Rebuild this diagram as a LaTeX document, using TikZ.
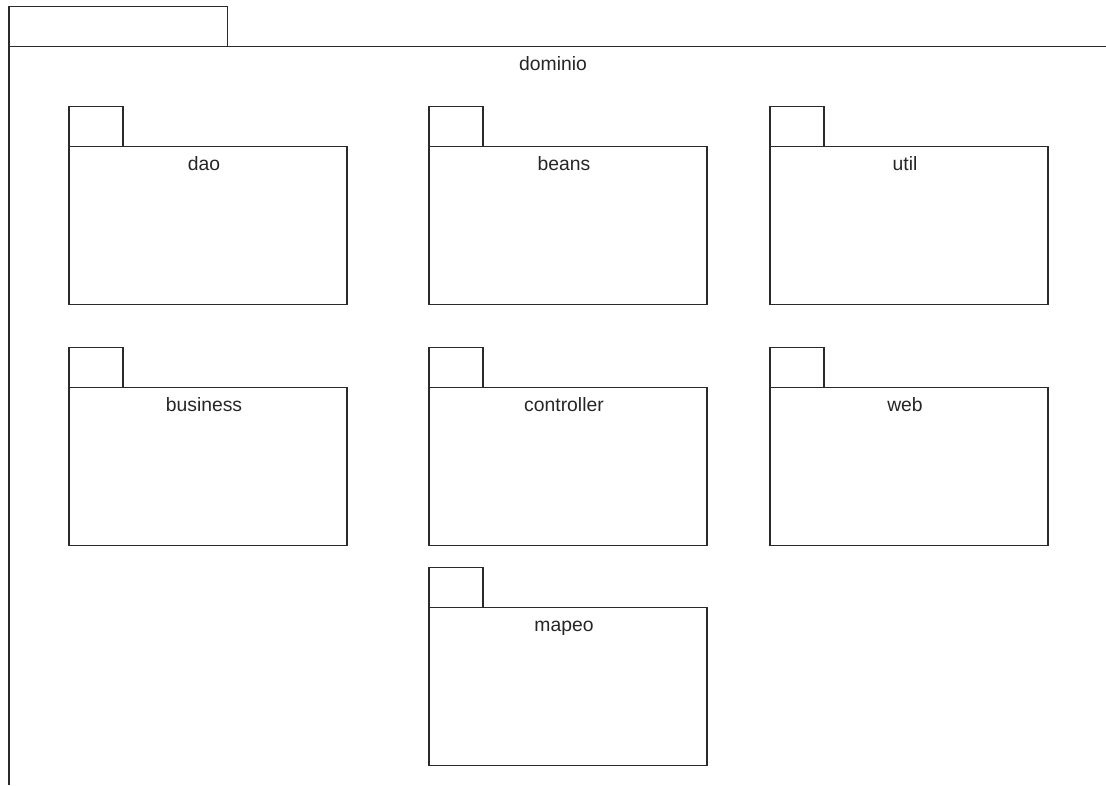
\documentclass[tikz,border=0pt]{standalone}
\usepackage{fontspec}
\setmainfont{Liberation Sans}
\definecolor{linegray}{HTML}{2A2A2A}
\begin{document}
\begin{tikzpicture}[x=0.75pt,y=-0.75pt,
  frame/.style={draw=linegray,line width=1.1pt},
  pkgbody/.style={frame,rectangle,anchor=north west,inner sep=0pt,outer sep=0pt,minimum width=208.5pt,minimum height=118.5pt},
  pkgtab/.style={frame,rectangle,anchor=south west,inner sep=0pt,outer sep=0pt,minimum width=40.5pt,minimum height=30pt},
  pkglabel/.style={anchor=base,inner sep=0pt,font=\fontsize{14.5}{16}\selectfont,text=black!85}]
\useasboundingbox[fill=white] (0,0) rectangle (1106,785);
% outer package "dominio"
\coordinate (otl) at (9,46.5);
\coordinate (otr) at (1106,46.5);
\coordinate (obl) at (9,785);
\coordinate (tabtl) at (9,6.5);
\coordinate (tabtr) at (227.5,6.5);
\coordinate (tabbr) at (227.5,46.5);
\draw[frame] (tabbr) -- (tabtr) -- (tabtl) -- (otl);
\draw[frame] (otr) -- (otl) -- (obl);
\node[pkglabel] (dominio) at (553,70.5) {dominio};
% inner packages
\foreach \nm/\lbl/\x/\y in {dao/dao/69/146.5, beans/beans/429/146.5, util/util/770/146.5,
  business/business/69/387.5, controller/controller/429/387.5, web/web/770/387.5,
  mapeo/mapeo/429/607.5}{
  \node[pkgbody] (\nm) at (\x,\y) {};
  \node[pkgtab] (\nm-tab) at (\nm.north west) {};
  \node[pkglabel] (\nm-label) at ([xshift=-3pt,yshift=-18pt]\nm.north) {\lbl};
}
\end{tikzpicture}
\end{document}
